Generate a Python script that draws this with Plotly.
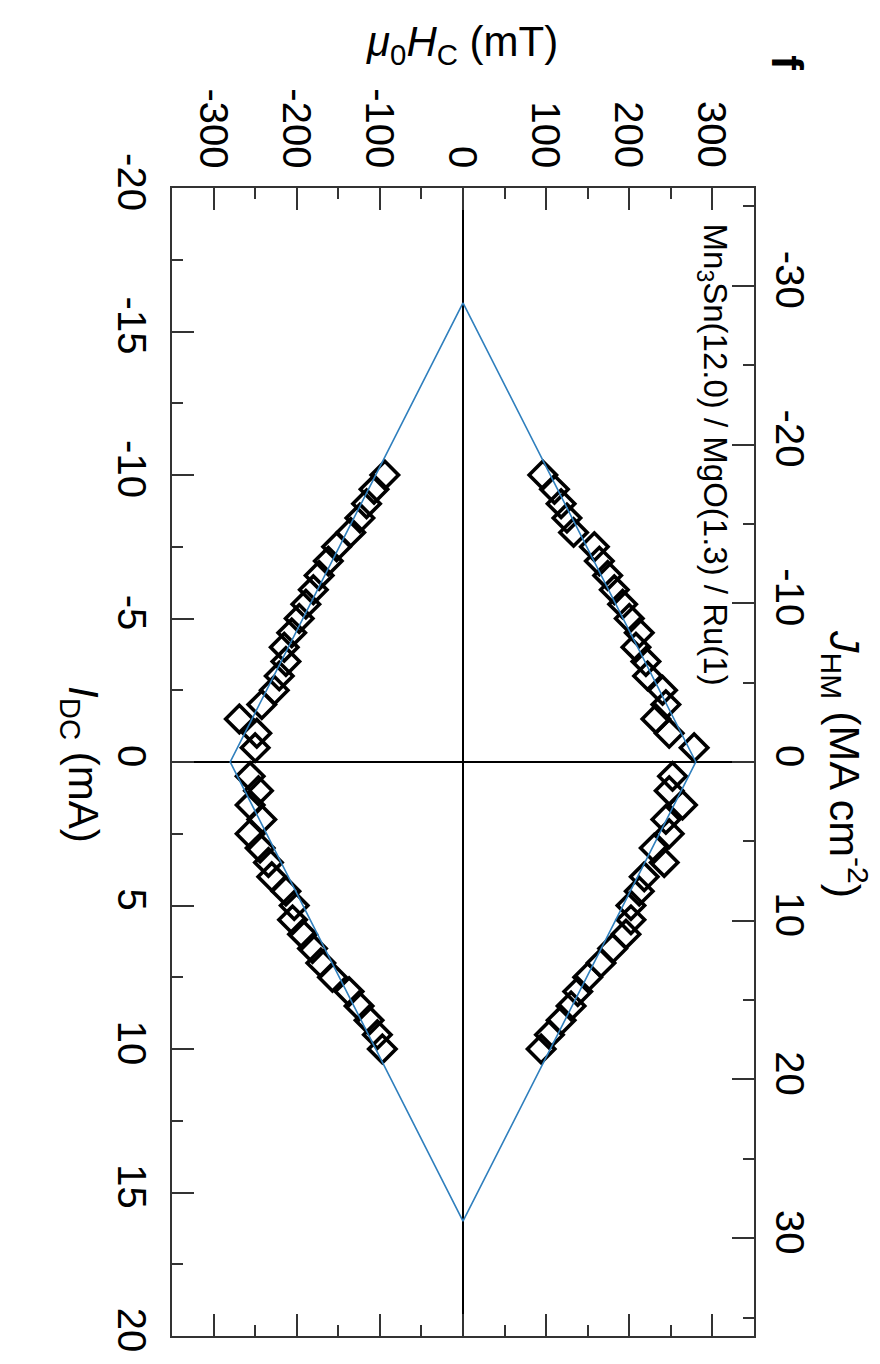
import plotly.graph_objects as go

# ---- data ----
I_neg = [-10, -9.5, -9, -8.5, -8, -7.5, -7, -6.5, -6, -5.5,
         -5, -4.5, -4, -3.5, -3, -2.5, -2, -1.5, -1, -0.5]
I_pos = [0.5, 1, 1.5, 2, 2.5, 3, 3.5, 4, 4.5, 5,
         5.5, 6, 6.5, 7, 7.5, 8, 8.5, 9, 9.5, 10]

H_up_neg = [96, 110, 118, 125, 133, 158, 164, 174, 182, 192,
            200, 212, 208, 220, 222, 240, 244, 232, 248, 278]
H_up_pos = [252, 248, 264, 244, 248, 230, 242, 218, 212, 202,
            202, 196, 180, 166, 150, 138, 130, 118, 104, 94]
H_lo_neg = [-94, -107, -116, -124, -135, -152, -162, -173, -180, -189,
            -197, -206, -215, -213, -221, -227, -242, -269, -248, -250]
H_lo_pos = [-256, -246, -256, -242, -256, -244, -234, -230, -213, -203,
            -205, -193, -181, -171, -157, -137, -125, -113, -103, -97]

fit_I = [-16, 0, 16, 0, -16]
fit_H = [0, 280, 0, -280, 0]

I_ticks = [-20, -15, -10, -5, 0, 5, 10, 15, 20]
H_ticks = [-300, -200, -100, 0, 100, 200, 300]
J_ticks = [-30, -20, -10, 0, 10, 20, 30]

I_range = [-20, 20]
H_range = [-350, 350]
J_per_mA = 1.808

FONT = "Liberation Sans, Arial, Helvetica, sans-serif"
TICKFONT = dict(family=FONT, size=40, color="black")
AXCOL = "#333333"

W, H = 880, 1364
ML, MR, MT, MB = 172, 126, 188, 26
PW, PH = W - ML - MR, H - MT - MB

fig = go.Figure()

# data markers (drawn first so the fit line lies on top)
all_I = I_neg + I_pos + I_neg + I_pos
all_H = H_up_neg + H_up_pos + H_lo_neg + H_lo_pos
fig.add_trace(go.Scatter(
    x=all_H, y=all_I, mode="markers",
    marker=dict(symbol="diamond-open", size=21, color="black",
                line=dict(width=3.6, color="black")),
    showlegend=False, hoverinfo="skip"))

# linear fit
fig.add_trace(go.Scatter(
    x=fit_H, y=fit_I, mode="lines",
    line=dict(color="#2f7fbd", width=1.6),
    showlegend=False, hoverinfo="skip"))

# dummy trace on secondary y axis (J_HM)
fig.add_trace(go.Scatter(x=[None], y=[None], yaxis="y2",
                         showlegend=False, hoverinfo="skip"))

fig.update_layout(
    width=W, height=H,
    margin=dict(l=ML, r=MR, t=MT, b=MB),
    paper_bgcolor="white", plot_bgcolor="white",
    showlegend=False,
    xaxis=dict(
        range=H_range, side="top",
        tickmode="array", tickvals=H_ticks,
        showticklabels=False,
        ticks="inside", ticklen=22, tickwidth=2, tickcolor=AXCOL,
        minor=dict(ticks="inside", ticklen=11, tickwidth=2, tickcolor=AXCOL,
                   dtick=50, tick0=0),
        showline=True, linecolor=AXCOL, linewidth=2, mirror="ticks",
        showgrid=False, zeroline=True, zerolinecolor="black", zerolinewidth=2,
    ),
    yaxis=dict(
        range=[I_range[1], I_range[0]],
        tickmode="array", tickvals=I_ticks,
        ticktext=[str(v) for v in I_ticks],
        tickangle=90, tickfont=TICKFONT,
        ticks="inside", ticklen=22, tickwidth=2, tickcolor=AXCOL,
        minor=dict(ticks="inside", ticklen=11, tickwidth=2, tickcolor=AXCOL,
                   dtick=2.5, tick0=0),
        showline=True, linecolor=AXCOL, linewidth=2, mirror=False,
        showgrid=False, zeroline=True, zerolinecolor="black", zerolinewidth=2,
        ticklabelstandoff=4,
    ),
    yaxis2=dict(
        overlaying="y", side="right",
        range=[I_range[1] * J_per_mA, I_range[0] * J_per_mA],
        tickmode="array", tickvals=J_ticks,
        ticktext=[str(v) for v in J_ticks],
        tickangle=90, tickfont=TICKFONT,
        ticks="inside", ticklen=22, tickwidth=2, tickcolor=AXCOL,
        minor=dict(ticks="inside", ticklen=11, tickwidth=2, tickcolor=AXCOL,
                   dtick=5, tick0=0),
        showline=True, linecolor=AXCOL, linewidth=2,
        showgrid=False, zeroline=False,
        ticklabelstandoff=4,
    ),
)

# top-axis tick labels (rotated, end-aligned just above the frame)
for v in H_ticks:
    fig.add_annotation(
        text=str(v), xref="x", x=v, yref="paper", y=1 + 19 / PH,
        xanchor="center", yanchor="bottom", showarrow=False,
        textangle=90, borderpad=0, font=TICKFONT)

ann = [
    dict(text="<i>μ</i><sub>0</sub><i>H</i><sub>C</sub> (mT)",
         x=462, y=44, textangle=0, size=42),
    dict(text="<i>I</i><sub>DC</sub> (mA)",
         x=80, y=765, textangle=90, size=42),
    dict(text="<i>J</i><sub>HM</sub> (MA cm<sup>-2</sup>)",
         x=845, y=765, textangle=90, size=43),
    dict(text="<b>f</b>", x=788, y=62, textangle=90, size=44),
    dict(text="Mn<sub>3</sub>Sn(12.0) / MgO(1.3) / Ru(1)",
         x=713, y=455, textangle=90, size=33),
]
for a in ann:
    fig.add_annotation(
        text=a["text"], xref="paper", yref="paper",
        x=(a["x"] - ML) / PW,
        y=1 - (a["y"] - MT) / PH,
        xanchor="center", yanchor="middle", showarrow=False,
        textangle=a["textangle"],
        font=dict(family=FONT, size=a["size"], color="black"))

fig.write_html("out.html")
